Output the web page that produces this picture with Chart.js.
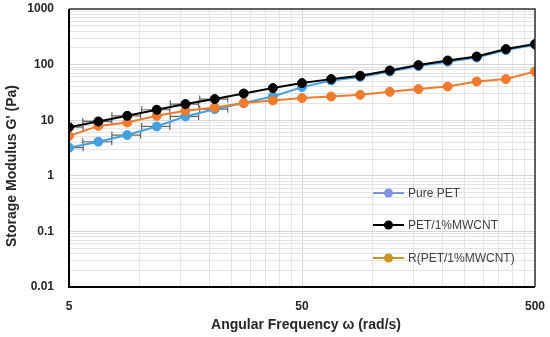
<!DOCTYPE html>
<html>
<head>
<meta charset="utf-8">
<script src="https://cdn.jsdelivr.net/npm/chart.js@4/dist/chart.umd.min.js"></script>
<style>
  body { margin: 0; background: #fff; }
  canvas { display: block; }
</style>
</head>
<body>
<canvas id="chart" width="550" height="337"></canvas>
<script>
// angular frequency (rad/s)
const freq = [5, 6.68, 8.89, 11.9, 15.8, 21.1, 28.1, 37.5, 50, 66.7, 88.9, 119, 158, 211, 281, 375, 500];
// storage modulus G' (Pa)
const purePET = [3.2, 4.1, 5.4, 7.7, 11.7, 15.8, 20.3, 26.7, 39.4, 51.8, 60, 75, 94, 113, 134, 182, 228];
const petMWCNT = [7.5, 9.5, 12.0, 15.4, 19.5, 24, 30.2, 37.8, 46.5, 54.8, 62.9, 78.3, 98, 118.5, 140, 190, 234];
const rPetMWCNT = [5.2, 7.9, 9.1, 12.0, 14.8, 16.9, 20.3, 22.6, 25, 26.7, 28.6, 32.4, 36.3, 40.3, 49.7, 54.9, 75.2];
// horizontal error bars (half width, rad/s) on the first points
const purePETErr = [0.75, 0.95, 1.25, 1.65, 2.2, 2.9];
const petMWCNTErr = [0.75, 0.95, 1.25, 1.65, 2.2, 2.9];

const seriesNames = ["Pure PET", "PET/1%MWCNT", "R(PET/1%MWCNT)"];
const xTickLabels = [5, 50, 500];
const yTickLabels = [0.01, 0.1, 1, 10, 100, 1000];
const xGrid = [5, 10, 15, 20, 25, 30, 35, 40, 45, 50, 100, 150, 200, 250, 300, 350, 400, 450, 500];

const FONT = "'Liberation Sans', Arial, sans-serif";

function pts(ys) {
  return freq.map((f, i) => ({ x: f, y: ys[i] }));
}

// y grid: 1..9 in every decade
const yGrid = [];
for (let d = -2; d < 3; d++) {
  for (let m = 1; m < 10; m++) yGrid.push(+(m * Math.pow(10, d)).toPrecision(3));
}
yGrid.push(1000);

const errorBars = {
  id: "errorBars",
  beforeDatasetsDraw(chart) {
    const ctx = chart.ctx;
    const xs = chart.scales.x, ys = chart.scales.y;
    ctx.save();
    ctx.strokeStyle = "rgba(60,60,60,0.8)";
    ctx.lineWidth = 1.2;
    [[purePET, purePETErr], [petMWCNT, petMWCNTErr]].forEach(([vals, errs]) => {
      errs.forEach((e, i) => {
        const y = ys.getPixelForValue(vals[i]);
        const x0 = xs.getPixelForValue(Math.max(freq[i] - e, 5));
        const x1 = xs.getPixelForValue(freq[i] + e);
        ctx.beginPath();
        ctx.moveTo(x0, y); ctx.lineTo(x1, y);
        if (freq[i] - e > 5) { ctx.moveTo(x0, y - 3.5); ctx.lineTo(x0, y + 3.5); }
        ctx.moveTo(x1, y - 3.5); ctx.lineTo(x1, y + 3.5);
        ctx.stroke();
      });
    });
    ctx.restore();
  }
};

const frameAndText = {
  id: "frameAndText",
  afterDraw(chart) {
    const ctx = chart.ctx;
    const a = chart.chartArea;
    ctx.save();
    // plot frame
    ctx.strokeStyle = "#333";
    ctx.lineWidth = 1.5;
    ctx.beginPath();
    ctx.moveTo(a.left, a.top); ctx.lineTo(a.right, a.top); ctx.lineTo(a.right, a.bottom);
    ctx.stroke();
    ctx.strokeStyle = "#000";
    ctx.lineWidth = 2;
    ctx.beginPath();
    ctx.moveTo(a.left, a.top); ctx.lineTo(a.left, a.bottom); ctx.lineTo(a.right, a.bottom);
    ctx.stroke();

    // axis titles
    ctx.fillStyle = "#262626";
    ctx.font = "bold 14px " + FONT;
    ctx.textAlign = "center";
    ctx.textBaseline = "middle";
    ctx.fillText("Angular Frequency \u03c9 (rad/s)", 306, 325);
    ctx.translate(12, 166);
    ctx.rotate(-Math.PI / 2);
    ctx.fillText("Storage Modulus G' (Pa)", 0, 0);
    ctx.restore();

    // legend inside the plot
    const legendColors = ["#7f93e3", "#000000", "#c99524"];
    const rows = [a.bottom - 94, a.bottom - 62, a.bottom - 29];
    ctx.save();
    ctx.font = "12px " + FONT;
    ctx.textBaseline = "middle";
    seriesNames.forEach((name, i) => {
      const y = rows[i];
      const x0 = a.right - 162;
      ctx.strokeStyle = legendColors[i];
      ctx.lineWidth = 2;
      ctx.beginPath();
      ctx.moveTo(x0, y); ctx.lineTo(x0 + 31, y);
      ctx.stroke();
      ctx.fillStyle = legendColors[i];
      ctx.beginPath();
      ctx.arc(x0 + 15.5, y, 4.5, 0, Math.PI * 2);
      ctx.fill();
      ctx.fillStyle = "#404040";
      ctx.fillText(name, x0 + 35, y + 0.5);
    });
    ctx.restore();
  }
};

function series(label, data, color, order) {
  return {
    label: label,
    data: pts(data),
    borderColor: color,
    backgroundColor: color,
    borderWidth: 2,
    pointRadius: 4.5,
    pointBorderWidth: 1,
    pointBorderColor: color,
    pointBackgroundColor: color,
    tension: 0,
    order: order
  };
}

const gridColor = (ctx) => (ctx.tick && ctx.tick.major ? "#d4d4d4" : "#e3e3e3");

// keep the plot area where the reference has it
function noPad(scale) {
  scale.paddingLeft = 0;
  scale.paddingRight = 0;
  scale.paddingTop = 0;
  scale.paddingBottom = 0;
}

new Chart(document.getElementById("chart").getContext("2d"), {
  type: "line",
  data: {
    datasets: [
      series(seriesNames[0], purePET, "#42a0df", 2),
      series(seriesNames[1], petMWCNT, "#000000", 0),
      series(seriesNames[2], rPetMWCNT, "#f07b2c", 1)
    ]
  },
  options: {
    responsive: false,
    animation: false,
    devicePixelRatio: 1,
    layout: { padding: { left: 0, right: 15, top: 9, bottom: 0 } },
    plugins: {
      legend: { display: false },
      tooltip: { enabled: false }
    },
    scales: {
      x: {
        type: "logarithmic",
        min: 5,
        max: 500,
        afterBuildTicks(scale) {
          scale.ticks = xGrid.map(v => ({ value: v, major: xTickLabels.includes(v) }));
        },
        afterFit(scale) { scale.height = 50; noPad(scale); },
        grid: { color: gridColor, lineWidth: 1, drawTicks: false },
        border: { display: false },
        ticks: {
          autoSkip: false,
          maxRotation: 0,
          padding: 12,
          color: "#262626",
          font: { family: FONT, size: 12, weight: "bold" },
          callback: (v) => xTickLabels.includes(v) ? String(v) : ""
        }
      },
      y: {
        type: "logarithmic",
        min: 0.01,
        max: 1000,
        afterBuildTicks(scale) {
          scale.ticks = yGrid.map(v => ({ value: v, major: yTickLabels.includes(v) }));
        },
        afterFit(scale) { scale.width = 69; noPad(scale); },
        grid: { color: gridColor, lineWidth: 1, drawTicks: false },
        border: { display: false },
        ticks: {
          autoSkip: false,
          padding: 15,
          color: "#262626",
          font: { family: FONT, size: 12, weight: "bold" },
          callback: (v) => yTickLabels.includes(v) ? String(v) : ""
        }
      }
    }
  },
  plugins: [errorBars, frameAndText]
});
</script>
</body>
</html>
